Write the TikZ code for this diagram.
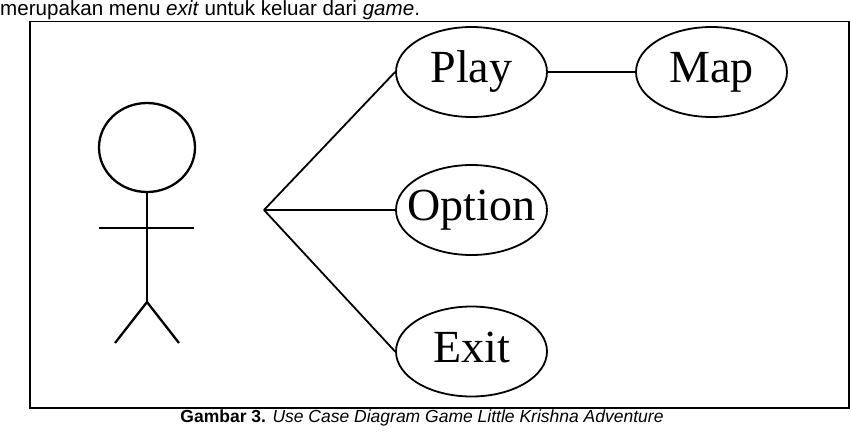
\documentclass[tikz,border=0pt]{standalone}
\usepackage{fontspec}
\setmainfont{Liberation Serif}
\newfontfamily\capfont{Liberation Sans}
\usetikzlibrary{shapes.geometric}

\begin{document}
\begin{tikzpicture}[
    x=1pt, y=-1pt,
    usecase/.style={ellipse, draw, line width=1.8pt, minimum width=151pt, minimum height=90pt,
                    inner xsep=-12pt, inner ysep=0pt, text height=30pt, text depth=9pt,
                    font=\fontsize{46}{50}\selectfont},
    limb/.style={line width=2.3pt},
    link/.style={line width=1.8pt},
    frame/.style={draw, line width=1.6pt}
]
\useasboundingbox (0,0) rectangle (851,432);

% ============ SURROUNDING TEXT ============
\node[anchor=base west, inner sep=0pt, font=\capfont\fontsize{20.6}{24}\selectfont] (intro) at (0,15)
    {merupakan menu \textit{exit} untuk keluar dari \textit{game}.};
\node[anchor=base, inner sep=0pt, font=\capfont\fontsize{17.5}{21}\selectfont] (caption) at (422,422)
    {\textbf{Gambar 3.} \textit{Use Case Diagram Game Little Krishna Adventure}};

% ============ FRAME ============
\draw[frame] (30,21.5) rectangle (849,408);

% ============ ACTOR ============
\node[ellipse, draw, limb, minimum width=96pt, minimum height=89pt, inner sep=0pt] (head) at (147,147.5) {};
\coordinate (hip) at (147,302);
\draw[limb] (head.south) -- (hip);
\draw[limb] (99,228) -- (194,228);
\draw[limb] (115,343) -- (hip) -- (179,343);

% ============ USE CASES ============
\node[usecase] (play) at (471.5,72) {Play};
\node[usecase] (map) at (711.5,72) {Map};
\node[usecase] (option) at (471.5,210) {Option};
\node[usecase] (exit) at (471.5,351.5) {Exit};

% ============ CONNECTORS ============
\coordinate (hub) at (264,210);
\draw[link] (hub) -- (play.west);
\draw[link] (hub) -- (option.west);
\draw[link] (hub) -- (exit.west);
\draw[link] (play) -- (map);

\end{tikzpicture}
\end{document}
